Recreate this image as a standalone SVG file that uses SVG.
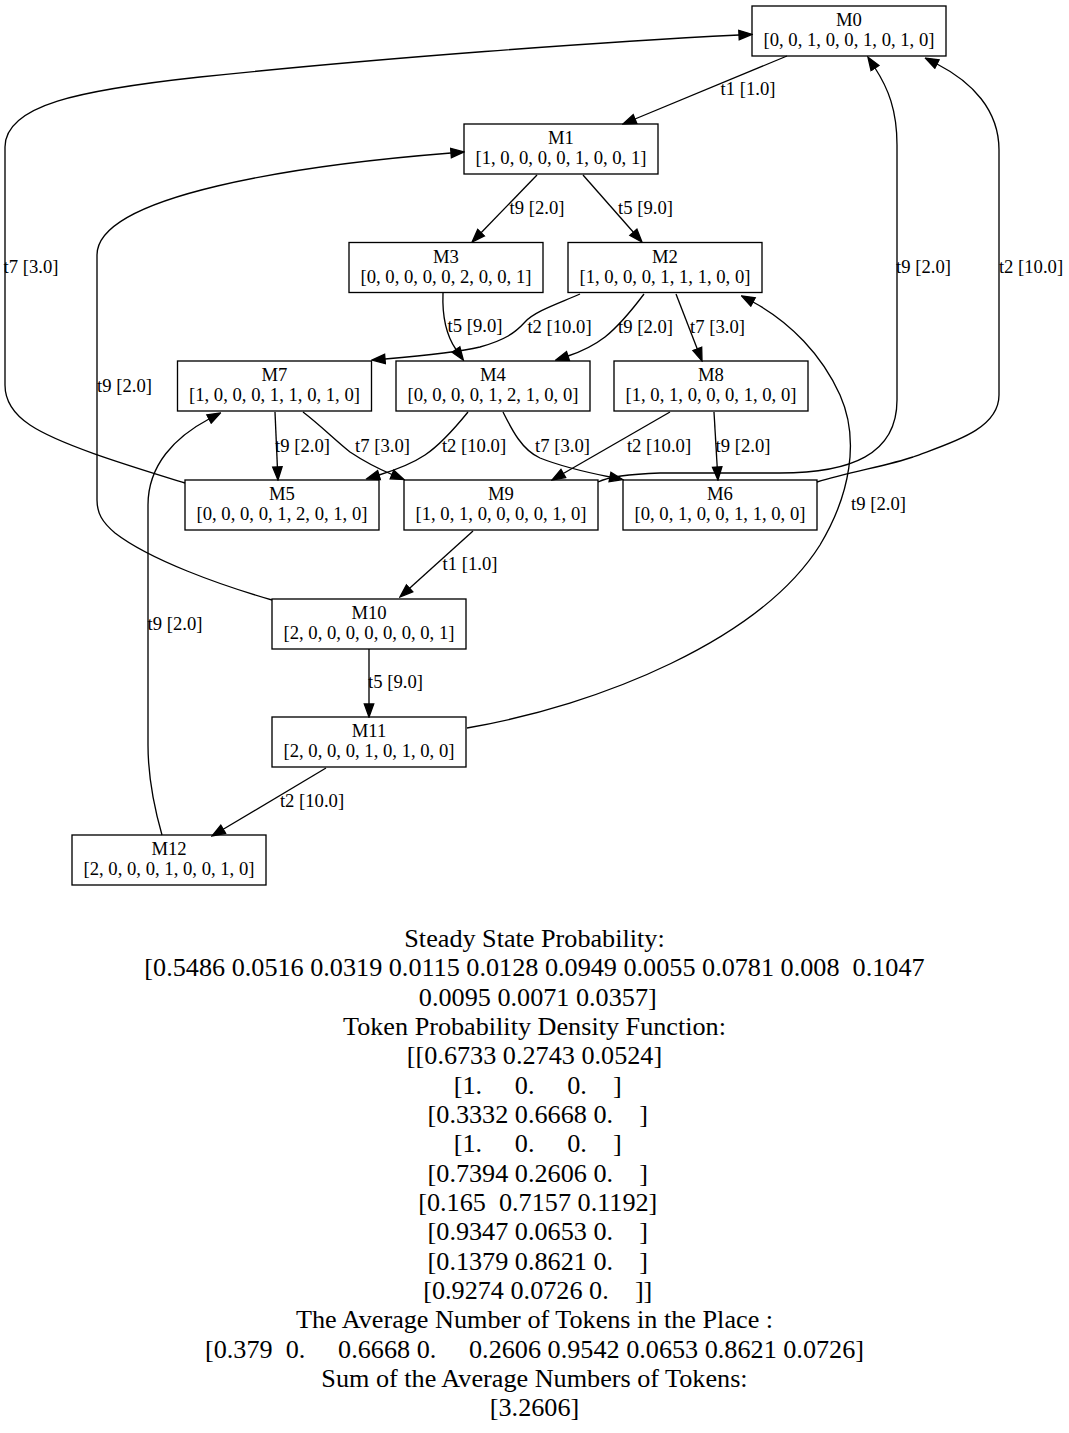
<svg xmlns="http://www.w3.org/2000/svg" width="1069" height="1433" viewBox="0 0 1069 1433">
<style>
.n rect{fill:none;stroke:#000;stroke-width:1.33}
.n text,.el{font-family:"Liberation Serif","Times New Roman",serif;font-size:18.67px;text-anchor:middle;fill:#000}
.e{fill:none;stroke:#000;stroke-width:1.33;marker-end:url(#ah)}
.info text{font-family:"Liberation Serif","Times New Roman",serif;font-size:26.2px;text-anchor:middle;fill:#000;white-space:pre}
</style>
<defs>
<marker id="ah" markerUnits="userSpaceOnUse" markerWidth="15" markerHeight="12" refX="0" refY="6" orient="auto" viewBox="-1 0 15 12">
<path d="M0,1.3 L13,6 L0,10.7 Z" fill="#000" stroke="#000" stroke-width="1.33"/>
</marker>
</defs>
<rect width="1069" height="1433" fill="#fff"/>
<g id="edges">
<g id="e_M0_M1"><path class="e" d="M787,56 L635,119"/><text class="el" x="748" y="95">t1 [1.0]</text></g>
<g id="e_M1_M3"><path class="e" d="M537,175 L481.1,232.7"/><text class="el" x="537" y="214">t9 [2.0]</text></g>
<g id="e_M1_M2"><path class="e" d="M583,175 L633.4,232.3"/><text class="el" x="645.5" y="214">t5 [9.0]</text></g>
<g id="e_M3_M4"><path class="e" d="M443,293 C442,318 446,335 456,349.5"/><text class="el" x="475" y="332">t5 [9.0]</text></g>
<g id="e_M2_M7"><path class="e" d="M580,294 C560,303 535,311 525,322 C515,333 505,340 480,347 C455,353 420,356 385,359"/><text class="el" x="559.5" y="333">t2 [10.0]</text></g>
<g id="e_M2_M4"><path class="e" d="M644,294 C632,310 620,325 605,337 C592,347 580,352 568,356"/><text class="el" x="645.5" y="333">t9 [2.0]</text></g>
<g id="e_M2_M8"><path class="e" d="M676,294 L697.3,348.9"/><text class="el" x="717.5" y="333">t7 [3.0]</text></g>
<g id="e_M7_M5"><path class="e" d="M275,412 L277.4,467"/><text class="el" x="302.5" y="452">t9 [2.0]</text></g>
<g id="e_M7_M9"><path class="e" d="M303,412 C320,425 335,440 350,452 C365,462 379,469 392,474.5"/><text class="el" x="382.5" y="452">t7 [3.0]</text></g>
<g id="e_M4_M5"><path class="e" d="M468,412 C455,428 440,445 425,455 C410,465 392,471 379,475"/><text class="el" x="474" y="452">t2 [10.0]</text></g>
<g id="e_M4_M6"><path class="e" d="M503,412 C512,430 522,450 540,458 C560,466 585,472 610,477"/><text class="el" x="562.5" y="452">t7 [3.0]</text></g>
<g id="e_M8_M9"><path class="e" d="M670,412 L563.3,473.5"/><text class="el" x="659" y="452">t2 [10.0]</text></g>
<g id="e_M8_M6"><path class="e" d="M714,412 L717.2,467"/><text class="el" x="743" y="452">t9 [2.0]</text></g>
<g id="e_M5_M0"><path class="e" d="M185,483 C130,466 60,445 30,425 C12,413 5,400 5,385 L5,147 C5,105 80,90 200,77 C380,58 600,42 739,35"/><text class="el" x="31" y="273">t7 [3.0]</text></g>
<g id="e_M9_M0"><path class="e" d="M598,482 C610,476 630,474 660,473 L780,473 C850,473 897,455 897,400 L897,145 C897,110 888,88 875,68"/><text class="el" x="923.5" y="273">t9 [2.0]</text></g>
<g id="e_M6_M0"><path class="e" d="M817,482 C850,472 890,465 913,457 C950,443 999,430 999,395 L999,150 C999,110 972,82 937,64"/><text class="el" x="1031" y="273">t2 [10.0]</text></g>
<g id="e_M10_M1"><path class="e" d="M272,600 C220,585 150,560 115,533 C102,522 97,513 97,500 L97,255 C97,195 300,165 451,153"/><text class="el" x="124.5" y="392">t9 [2.0]</text></g>
<g id="e_M9_M10"><path class="e" d="M473,531 L409.6,588.3"/><text class="el" x="470" y="570">t1 [1.0]</text></g>
<g id="e_M10_M11"><path class="e" d="M369,649 L369,704"/><text class="el" x="395.5" y="688">t5 [9.0]</text></g>
<g id="e_M11_M2"><path class="e" d="M467,728 C600,705 760,640 820,545 C850,495 860,440 840,395 C822,355 790,322 753,302"/><text class="el" x="878.5" y="510">t9 [2.0]</text></g>
<g id="e_M11_M12"><path class="e" d="M326,768 L223.2,829.3"/><text class="el" x="312" y="807">t2 [10.0]</text></g>
<g id="e_M12_M7"><path class="e" d="M162,835 C152,800 148,770 148,745 L148,505 C148,465 175,437 209,419"/><text class="el" x="175" y="630">t9 [2.0]</text></g>
</g>
<g id="node_M0" class="n"><rect x="752" y="6" width="194" height="50"/><text x="849" y="26">M0</text><text x="849" y="46">[0, 0, 1, 0, 0, 1, 0, 1, 0]</text></g>
<g id="node_M1" class="n"><rect x="464" y="124" width="194" height="50"/><text x="561" y="144">M1</text><text x="561" y="164">[1, 0, 0, 0, 0, 1, 0, 0, 1]</text></g>
<g id="node_M3" class="n"><rect x="349" y="242.5" width="194" height="50"/><text x="446" y="262.5">M3</text><text x="446" y="282.5">[0, 0, 0, 0, 0, 2, 0, 0, 1]</text></g>
<g id="node_M2" class="n"><rect x="568" y="242.5" width="194" height="50"/><text x="665" y="262.5">M2</text><text x="665" y="282.5">[1, 0, 0, 0, 1, 1, 1, 0, 0]</text></g>
<g id="node_M7" class="n"><rect x="177.5" y="361" width="194" height="50"/><text x="274.5" y="381">M7</text><text x="274.5" y="401">[1, 0, 0, 0, 1, 1, 0, 1, 0]</text></g>
<g id="node_M4" class="n"><rect x="396" y="361" width="194" height="50"/><text x="493" y="381">M4</text><text x="493" y="401">[0, 0, 0, 0, 1, 2, 1, 0, 0]</text></g>
<g id="node_M8" class="n"><rect x="614" y="361" width="194" height="50"/><text x="711" y="381">M8</text><text x="711" y="401">[1, 0, 1, 0, 0, 0, 1, 0, 0]</text></g>
<g id="node_M5" class="n"><rect x="185" y="480" width="194" height="50"/><text x="282" y="500">M5</text><text x="282" y="520">[0, 0, 0, 0, 1, 2, 0, 1, 0]</text></g>
<g id="node_M9" class="n"><rect x="404" y="480" width="194" height="50"/><text x="501" y="500">M9</text><text x="501" y="520">[1, 0, 1, 0, 0, 0, 0, 1, 0]</text></g>
<g id="node_M6" class="n"><rect x="623" y="480" width="194" height="50"/><text x="720" y="500">M6</text><text x="720" y="520">[0, 0, 1, 0, 0, 1, 1, 0, 0]</text></g>
<g id="node_M10" class="n"><rect x="272" y="599" width="194" height="50"/><text x="369" y="619">M10</text><text x="369" y="639">[2, 0, 0, 0, 0, 0, 0, 0, 1]</text></g>
<g id="node_M11" class="n"><rect x="272" y="717" width="194" height="50"/><text x="369" y="737">M11</text><text x="369" y="757">[2, 0, 0, 0, 1, 0, 1, 0, 0]</text></g>
<g id="node_M12" class="n"><rect x="72" y="835" width="194" height="50"/><text x="169" y="855">M12</text><text x="169" y="875">[2, 0, 0, 0, 1, 0, 0, 1, 0]</text></g>
<g id="info" class="info">
<text xml:space="preserve" x="534.5" y="947">Steady State Probability:</text>
<text xml:space="preserve" x="534.5" y="976.3">[0.5486 0.0516 0.0319 0.0115 0.0128 0.0949 0.0055 0.0781 0.008  0.1047</text>
<text xml:space="preserve" x="534.5" y="1005.7"> 0.0095 0.0071 0.0357]</text>
<text xml:space="preserve" x="534.5" y="1035">Token Probability Density Function:</text>
<text xml:space="preserve" x="534.5" y="1064.3">[[0.6733 0.2743 0.0524]</text>
<text xml:space="preserve" x="534.5" y="1093.7"> [1.     0.     0.    ]</text>
<text xml:space="preserve" x="534.5" y="1123"> [0.3332 0.6668 0.    ]</text>
<text xml:space="preserve" x="534.5" y="1152.3"> [1.     0.     0.    ]</text>
<text xml:space="preserve" x="534.5" y="1181.7"> [0.7394 0.2606 0.    ]</text>
<text xml:space="preserve" x="534.5" y="1211"> [0.165  0.7157 0.1192]</text>
<text xml:space="preserve" x="534.5" y="1240.3"> [0.9347 0.0653 0.    ]</text>
<text xml:space="preserve" x="534.5" y="1269.7"> [0.1379 0.8621 0.    ]</text>
<text xml:space="preserve" x="534.5" y="1299"> [0.9274 0.0726 0.    ]]</text>
<text xml:space="preserve" x="534.5" y="1328.3">The Average Number of Tokens in the Place :</text>
<text xml:space="preserve" x="534.5" y="1357.7">[0.379  0.     0.6668 0.     0.2606 0.9542 0.0653 0.8621 0.0726]</text>
<text xml:space="preserve" x="534.5" y="1387">Sum of the Average Numbers of Tokens:</text>
<text xml:space="preserve" x="534.5" y="1416.3">[3.2606]</text>
</g>
</svg>
